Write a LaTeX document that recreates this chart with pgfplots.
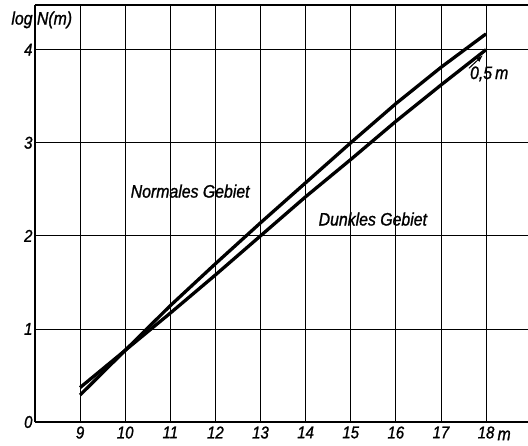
\documentclass[border=0pt]{standalone}
\usepackage{fontspec}
\setmainfont{Liberation Sans}[FakeStretch=0.88, FakeBold=1.2]
\usepackage{pgfplots}
\pgfplotsset{compat=1.18}
\usetikzlibrary{arrows.meta}
\begin{document}
\begin{tikzpicture}
\begin{axis}[
  scale only axis, width=493pt, height=417pt,
  xmin=8, xmax=18.93, ymin=0, ymax=4.48,
  axis x line=box, axis y line=left,
  axis line style={-, line width=1.5pt},
  xtick={9,...,18}, ytick={0,...,4},
  major tick length=0pt,
  grid=major, grid style={black, line width=0.8pt},
  tick label style={font=\fontsize{17}{20}\selectfont\itshape},
  /pgf/number format/assume math mode=true,
  xticklabel style={yshift=-1pt},
  yticklabel style={xshift=1pt},
  clip=false,
]
\addplot[black, line width=3.3pt] coordinates {
 (9,0.29) (10,0.77) (11,1.25) (12,1.70) (13,2.14) (14,2.57) (15,3.0) (16,3.42) (17,3.81) (18,4.17)};
\addplot[black, line width=3.3pt] coordinates {
 (9,0.37) (10,0.77) (11,1.17) (12,1.58) (13,2.0) (14,2.42) (15,2.82) (16,3.23) (17,3.62) (18,4.0)};
\draw[-{Latex[length=7pt,width=5pt]}, line width=1pt] (axis cs:17.62,3.80) -- (axis cs:17.93,3.94);
\node[font=\fontsize{18}{21}\selectfont\itshape] at (axis cs:11.44,2.48) {Normales Gebiet};
\node[font=\fontsize{18}{21}\selectfont\itshape] at (axis cs:15.49,2.18) {Dunkles Gebiet};
\node[font=\fontsize{18}{21}\selectfont\itshape] at (axis cs:18.07,3.74) {0,5\,m};
\node[font=\fontsize{18}{21}\selectfont\itshape] at (axis cs:8.15,4.32) {log N(m)};
\node[font=\fontsize{18}{21}\selectfont\itshape, anchor=north west, inner sep=0pt] at (axis cs:18.25,-0.09) {m};
\coordinate (sw) at (rel axis cs:0,0);
\coordinate (ne) at (rel axis cs:1,1);
\end{axis}
\pgfresetboundingbox
\path[use as bounding box] ([shift={(-35pt,-24pt)}]sw) rectangle ([shift={(0pt,5pt)}]ne);
\end{tikzpicture}
\end{document}
